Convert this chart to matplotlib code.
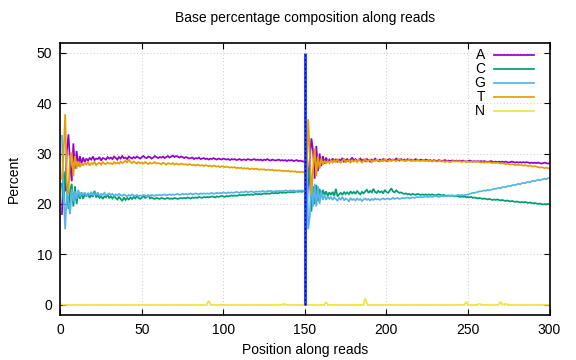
import numpy as np
import matplotlib
matplotlib.use("Agg")
import matplotlib.pyplot as plt
from matplotlib.lines import Line2D

plt.rcParams['font.family'] = ['Liberation Sans', 'DejaVu Sans']

# ---- data (percent per position, reads 1-150 = read 1, 151-300 = read 2) ----
base_A = [
    18.0, 26.0, 22.5, 30.5, 33.8, 28.0, 24.5, 32.0, 27.0, 30.5, 27.5, 29.5, 28.0, 29.2, 28.3,
    29.0, 28.6, 29.1, 28.8, 29.4, 28.7, 29.0, 28.9, 29.3, 28.6, 29.1, 29.0, 28.8, 29.3, 29.0,
    29.2, 28.9, 29.4, 29.1, 28.8, 29.3, 29.0, 29.5, 29.1, 29.2, 28.9, 29.4, 29.2, 29.0, 29.3,
    29.1, 29.4, 29.2, 29.0, 29.3, 29.5, 29.2, 29.1, 29.4, 29.3, 29.0, 29.2, 29.5, 29.3, 29.1,
    29.3, 29.2, 29.4, 29.1, 29.3, 29.5, 29.2, 29.4, 29.6, 29.3, 29.5, 29.4, 29.2, 29.4, 29.3,
    29.1, 29.3, 29.2, 29.0, 29.1, 29.2, 28.9, 29.1, 29.0, 29.2, 28.9, 29.0, 29.1, 28.9, 29.0,
    28.8, 29.0, 28.9, 29.1, 28.9, 28.8, 29.0, 28.9, 28.8, 29.0, 28.9, 28.8, 28.9, 28.7, 28.9,
    28.8, 28.9, 28.7, 28.8, 28.9, 28.7, 28.8, 28.8, 28.7, 28.9, 28.8, 28.7, 28.8, 28.9, 28.7,
    28.8, 28.7, 28.8, 28.6, 28.8, 28.7, 28.9, 28.7, 28.6, 28.8, 28.7, 28.6, 28.7, 28.8, 28.6,
    28.7, 28.6, 28.7, 28.5, 28.7, 28.6, 28.7, 28.5, 28.6, 28.7, 28.5, 28.6, 28.5, 28.4, 28.5,
    20.0, 24.0, 29.0, 33.0, 30.5, 25.0, 31.5, 26.5, 30.0, 27.5, 29.5, 28.0, 29.2, 28.3, 28.8,
    28.4, 29.0, 28.5, 28.9, 28.3, 28.8, 28.6, 29.1, 28.4, 28.7, 28.9, 28.5, 28.8, 29.2, 28.6,
    28.9, 28.5, 28.7, 29.0, 28.6, 28.8, 28.5, 28.9, 28.7, 28.4, 28.8, 28.6, 29.0, 28.7, 28.5,
    28.8, 28.6, 28.9, 28.7, 28.5, 28.8, 28.9, 28.6, 28.8, 28.7, 29.0, 28.8, 28.6, 28.9, 28.7,
    28.8, 28.6, 28.9, 28.7, 28.8, 28.6, 28.7, 28.9, 28.7, 28.6, 28.8, 28.7, 28.6, 28.8, 28.7,
    28.6, 28.7, 28.5, 28.7, 28.6, 28.5, 28.7, 28.6, 28.5, 28.6, 28.7, 28.5, 28.6, 28.5, 28.6,
    28.6, 28.5, 28.6, 28.5, 28.6, 28.5, 28.6, 28.5, 28.4, 28.5, 28.6, 28.5, 28.4, 28.5, 28.4,
    28.5, 28.4, 28.5, 28.4, 28.5, 28.4, 28.3, 28.4, 28.5, 28.4, 28.3, 28.4, 28.3, 28.4, 28.3,
    28.4, 28.3, 28.4, 28.3, 28.2, 28.3, 28.4, 28.3, 28.2, 28.3, 28.2, 28.3, 28.2, 28.3, 28.2,
    28.3, 28.2, 28.1, 28.2, 28.1, 28.2, 28.1, 28.2, 28.1, 28.0, 28.1, 28.2, 28.1, 28.0, 28.1,
]

base_C = [
    24.0, 20.0, 26.5, 23.5, 19.0, 22.5, 24.0, 19.5, 23.5, 20.0, 22.5, 21.0, 22.3, 21.0, 22.0,
    21.5, 22.0, 21.2, 21.8, 21.4, 22.6, 21.3, 21.7, 21.2, 21.6, 21.0, 21.5, 21.3, 21.8, 21.2,
    21.5, 21.1, 21.6, 21.2, 20.9, 21.4, 21.0, 20.6, 21.3, 20.8, 21.2, 20.9, 21.3, 21.0, 21.4,
    21.1, 21.5, 21.2, 21.0, 21.3, 21.6, 21.2, 21.4, 21.8, 21.1, 21.3, 21.1, 21.0, 21.2, 21.1,
    21.0, 21.2, 21.1, 21.0, 21.1, 21.2, 21.0, 21.1, 21.0, 21.2, 21.1, 21.0, 21.1, 21.2, 21.1,
    21.2, 21.1, 21.3, 21.2, 21.1, 21.3, 21.2, 21.3, 21.2, 21.4, 21.3, 21.2, 21.4, 21.3, 21.4,
    21.3, 21.4, 21.5, 21.4, 21.3, 21.5, 21.4, 21.5, 21.6, 21.5, 21.4, 21.6, 21.5, 21.6, 21.7,
    21.6, 21.7, 21.6, 21.7, 21.8, 21.7, 21.8, 21.7, 21.8, 21.9, 21.8, 21.9, 21.8, 21.9, 22.0,
    21.9, 22.0, 21.9, 22.0, 22.1, 22.0, 22.1, 22.0, 22.1, 22.2, 22.1, 22.2, 22.1, 22.2, 22.3,
    22.2, 22.3, 22.2, 22.3, 22.4, 22.3, 22.4, 22.3, 22.4, 22.5, 22.4, 22.5, 22.4, 22.5, 22.6,
    22.0, 27.0, 25.0, 18.5, 23.5, 20.0, 23.8, 20.5, 23.0, 21.5, 22.8, 21.8, 22.5, 21.6, 22.3,
    21.8, 22.4, 21.6, 23.0, 21.5, 21.9, 22.2, 21.8, 22.4, 22.0, 22.3, 21.9, 22.5, 22.1, 22.4,
    22.0, 22.6, 22.2, 21.9, 22.4, 22.1, 22.5, 22.8, 22.2, 22.6, 22.3, 23.0, 22.4, 22.2, 22.6,
    22.3, 22.5, 22.1, 22.8, 22.4, 22.2, 22.6, 23.1, 22.5, 22.3, 22.7, 22.4, 22.2, 22.3, 22.1,
    22.0, 22.1, 21.9, 22.0, 21.8, 22.0, 21.9, 21.8, 22.0, 21.9, 21.8, 21.9, 21.8, 21.9, 21.8,
    21.9, 21.8, 21.9, 21.8, 21.7, 21.8, 21.9, 21.8, 21.7, 21.8, 21.7, 21.6, 21.7, 21.6, 21.7,
    21.6, 21.5, 21.6, 21.5, 21.4, 21.5, 21.4, 21.5, 21.3, 21.4, 21.3, 21.4, 21.2, 21.3, 21.2,
    21.1, 21.2, 21.1, 21.0, 21.1, 21.0, 20.9, 21.0, 20.9, 20.8, 20.9, 20.8, 20.9, 20.8, 20.7,
    20.8, 20.7, 20.6, 20.7, 20.6, 20.5, 20.6, 20.5, 20.4, 20.5, 20.4, 20.3, 20.4, 20.3, 20.4,
    20.3, 20.2, 20.3, 20.2, 20.1, 20.2, 20.1, 20.0, 20.1, 20.0, 19.9, 20.0, 19.9, 20.0, 19.9,
]

base_G = [
    33.5, 22.0, 15.0, 22.5, 20.5, 18.0, 23.0, 20.5, 22.5, 21.0, 22.8, 21.5, 22.0, 21.8, 22.3,
    21.6, 22.2, 21.8, 22.4, 21.7, 22.1, 21.9, 22.3, 21.6, 22.0, 21.8, 22.2, 21.7, 21.9, 22.1,
    21.8, 22.0, 21.6, 21.9, 21.7, 22.0, 21.8, 21.6, 21.9, 21.7, 21.5, 21.8, 21.6, 21.9, 21.7,
    21.6, 21.8, 21.5, 21.7, 21.6, 21.8, 21.7, 21.5, 21.7, 21.6, 21.8, 21.7, 21.6, 21.8, 21.7,
    21.8, 21.7, 21.8, 21.9, 21.7, 21.8, 21.9, 21.8, 21.9, 21.8, 21.9, 22.0, 21.8, 21.9, 22.0,
    21.9, 22.0, 21.9, 22.0, 22.1, 21.9, 22.0, 22.1, 22.0, 21.9, 22.1, 22.0, 22.1, 22.0, 22.1,
    22.0, 22.1, 22.2, 22.0, 22.1, 22.2, 22.1, 22.2, 22.1, 22.3, 22.2, 22.1, 22.3, 22.2, 22.3,
    22.2, 22.3, 22.4, 22.3, 22.2, 22.4, 22.3, 22.4, 22.5, 22.3, 22.4, 22.5, 22.4, 22.3, 22.5,
    22.4, 22.5, 22.4, 22.6, 22.5, 22.4, 22.6, 22.5, 22.6, 22.5, 22.4, 22.6, 22.5, 22.6, 22.5,
    22.6, 22.5, 22.7, 22.6, 22.5, 22.7, 22.6, 22.7, 22.6, 22.5, 22.7, 22.6, 22.7, 22.6, 22.7,
    35.0, 15.0, 17.5, 25.0, 19.5, 24.0, 19.5, 23.5, 20.0, 22.5, 20.8, 21.8, 20.8, 21.5, 21.0,
    21.4, 20.8, 21.3, 21.0, 20.6, 21.2, 20.9, 21.4, 20.7, 21.1, 20.9, 20.5, 21.2, 20.8, 21.0,
    20.7, 21.1, 20.8, 21.0, 20.6, 20.9, 21.1, 20.8, 21.0, 20.7, 21.0, 20.8, 21.1, 20.9, 21.0,
    20.8, 21.0, 21.1, 20.9, 21.0, 21.1, 20.9, 21.0, 21.2, 21.0, 21.1, 21.2, 21.0, 21.1, 21.2,
    21.1, 21.2, 21.3, 21.1, 21.2, 21.3, 21.2, 21.3, 21.4, 21.3, 21.4, 21.3, 21.4, 21.5, 21.4,
    21.4, 21.5, 21.4, 21.5, 21.6, 21.5, 21.4, 21.5, 21.6, 21.5, 21.6, 21.5, 21.6, 21.7, 21.6,
    21.7, 21.6, 21.7, 21.8, 21.7, 21.8, 21.7, 21.8, 21.8, 21.9, 22.0, 22.1, 22.2, 22.2, 22.3,
    22.4, 22.5, 22.5, 22.6, 22.7, 22.6, 22.8, 22.7, 22.8, 22.9, 23.0, 23.0, 23.1, 23.2, 23.1,
    23.3, 23.4, 23.3, 23.5, 23.6, 23.5, 23.7, 23.8, 23.7, 23.9, 24.0, 23.9, 24.1, 24.2, 24.1,
    24.3, 24.4, 24.3, 24.5, 24.6, 24.5, 24.7, 24.8, 24.7, 24.8, 24.9, 25.0, 24.9, 25.1, 25.2,
]

base_T = [
    25.0, 30.0, 37.8, 24.0, 22.0, 29.5, 30.2, 25.5, 29.5, 27.0, 28.5, 27.3, 28.0, 27.6, 28.2,
    27.8, 28.3, 27.6, 28.1, 27.9, 28.4, 27.7, 28.0, 28.2, 27.8, 28.3, 28.0, 27.9, 28.2, 28.0,
    28.1, 27.9, 28.3, 28.0, 28.2, 28.0, 28.4, 28.1, 28.3, 28.6, 28.2, 28.8, 28.3, 28.1, 28.4,
    28.2, 28.0, 28.3, 28.1, 28.2, 28.0, 28.3, 28.1, 27.9, 28.2, 28.0, 28.1, 28.3, 28.0, 28.1,
    28.0, 27.9, 28.2, 28.0, 27.8, 28.1, 28.0, 27.9, 28.1, 27.8, 28.0, 27.9, 27.8, 28.0, 27.9,
    27.8, 27.9, 27.7, 27.9, 27.8, 27.7, 27.8, 27.6, 27.8, 27.7, 27.6, 27.7, 27.5, 27.7, 27.6,
    27.5, 27.6, 27.4, 27.6, 27.5, 27.4, 27.5, 27.3, 27.5, 27.4, 27.3, 27.4, 27.3, 27.2, 27.3,
    27.2, 27.3, 27.1, 27.2, 27.1, 27.2, 27.0, 27.1, 27.0, 27.1, 26.9, 27.0, 27.0, 26.9, 27.0,
    26.9, 26.8, 26.9, 26.8, 26.9, 26.7, 26.8, 26.8, 26.7, 26.8, 26.6, 26.7, 26.6, 26.7, 26.6,
    26.6, 26.5, 26.6, 26.5, 26.6, 26.4, 26.5, 26.4, 26.5, 26.3, 26.4, 26.3, 26.4, 26.3, 26.2,
    24.0, 36.8, 30.0, 22.0, 27.0, 31.0, 25.5, 29.5, 27.0, 29.0, 27.8, 28.6, 28.0, 28.5, 28.1,
    28.6, 28.2, 28.7, 28.3, 28.8, 28.4, 28.2, 28.6, 28.9, 28.3, 28.5, 28.7, 28.2, 28.6, 28.4,
    28.7, 28.3, 28.8, 28.5, 28.2, 28.6, 28.9, 28.4, 28.6, 28.8, 28.3, 28.7, 28.5, 28.8, 28.6,
    28.4, 28.7, 28.5, 28.9, 28.6, 28.4, 28.7, 28.5, 28.8, 28.6, 28.5, 28.7, 28.9, 28.6, 28.7,
    28.5, 28.7, 28.6, 28.8, 28.5, 28.7, 28.6, 28.5, 28.7, 28.6, 28.5, 28.6, 28.7, 28.5, 28.6,
    28.5, 28.6, 28.4, 28.6, 28.5, 28.4, 28.5, 28.6, 28.4, 28.5, 28.3, 28.5, 28.4, 28.3, 28.4,
    28.5, 28.4, 28.5, 28.4, 28.5, 28.3, 28.4, 28.5, 28.3, 28.4, 28.3, 28.4, 28.3, 28.4, 28.3,
    28.4, 28.3, 28.2, 28.3, 28.2, 28.3, 28.2, 28.3, 28.2, 28.1, 28.2, 28.1, 28.2, 28.1, 28.0,
    28.1, 28.0, 27.9, 28.0, 27.9, 27.8, 27.9, 27.8, 27.7, 27.8, 27.7, 27.8, 27.7, 27.6, 27.7,
    27.6, 27.5, 27.6, 27.5, 27.4, 27.5, 27.4, 27.3, 27.2, 27.3, 27.2, 27.1, 27.2, 27.1, 27.0,
]

base_N = [
    0.1, 0.0, 0.0, 0.0, 0.0, 0.0, 0.0, 0.0, 0.0, 0.0, 0.0, 0.0, 0.0, 0.0, 0.0,
    0.0, 0.0, 0.0, 0.0, 0.0, 0.0, 0.0, 0.0, 0.0, 0.0, 0.0, 0.0, 0.0, 0.0, 0.0,
    0.0, 0.0, 0.0, 0.0, 0.0, 0.0, 0.0, 0.0, 0.0, 0.0, 0.0, 0.0, 0.0, 0.0, 0.0,
    0.0, 0.0, 0.0, 0.0, 0.0, 0.0, 0.0, 0.0, 0.0, 0.0, 0.0, 0.0, 0.0, 0.0, 0.0,
    0.0, 0.0, 0.0, 0.0, 0.0, 0.0, 0.0, 0.0, 0.0, 0.0, 0.0, 0.0, 0.0, 0.0, 0.0,
    0.0, 0.0, 0.0, 0.0, 0.0, 0.0, 0.0, 0.0, 0.0, 0.0, 0.0, 0.0, 0.0, 0.0, 0.2,
    0.8, 0.1, 0.0, 0.0, 0.0, 0.0, 0.0, 0.0, 0.0, 0.0, 0.0, 0.0, 0.0, 0.0, 0.0,
    0.0, 0.0, 0.0, 0.0, 0.0, 0.0, 0.0, 0.0, 0.0, 0.0, 0.0, 0.0, 0.0, 0.0, 0.0,
    0.0, 0.0, 0.0, 0.0, 0.0, 0.0, 0.0, 0.0, 0.0, 0.0, 0.0, 0.0, 0.0, 0.0, 0.0,
    0.1, 0.2, 0.1, 0.0, 0.0, 0.0, 0.0, 0.0, 0.0, 0.0, 0.0, 0.0, 0.0, 0.0, 0.0,
    0.0, 0.0, 0.0, 0.0, 0.0, 0.0, 0.0, 0.0, 0.0, 0.0, 0.0, 0.1, 0.5, 0.1, 0.0,
    0.0, 0.0, 0.0, 0.0, 0.0, 0.0, 0.0, 0.0, 0.0, 0.0, 0.0, 0.0, 0.0, 0.0, 0.0,
    0.0, 0.0, 0.0, 0.0, 0.0, 0.1, 1.3, 0.3, 0.0, 0.0, 0.0, 0.0, 0.0, 0.0, 0.0,
    0.0, 0.0, 0.0, 0.0, 0.0, 0.0, 0.0, 0.0, 0.0, 0.0, 0.0, 0.0, 0.0, 0.0, 0.0,
    0.0, 0.0, 0.0, 0.0, 0.0, 0.0, 0.0, 0.0, 0.0, 0.0, 0.0, 0.0, 0.0, 0.0, 0.0,
    0.0, 0.0, 0.0, 0.0, 0.0, 0.0, 0.0, 0.0, 0.0, 0.0, 0.0, 0.0, 0.0, 0.0, 0.0,
    0.0, 0.0, 0.0, 0.0, 0.0, 0.0, 0.0, 0.1, 0.6, 0.1, 0.0, 0.0, 0.0, 0.0, 0.0,
    0.1, 0.2, 0.1, 0.0, 0.0, 0.0, 0.0, 0.0, 0.0, 0.0, 0.0, 0.0, 0.0, 0.1, 0.6,
    0.1, 0.1, 0.2, 0.1, 0.0, 0.0, 0.0, 0.0, 0.0, 0.0, 0.0, 0.0, 0.0, 0.0, 0.0,
    0.0, 0.0, 0.0, 0.0, 0.0, 0.0, 0.0, 0.0, 0.0, 0.0, 0.0, 0.0, 0.0, 0.0, 0.0,
]

positions = np.arange(1, len(base_A) + 1)
series_labels = ["A", "C", "G", "T", "N"]
series_colors = ["#9400D3", "#009E73", "#56B4E9", "#E69F00", "#F0E442"]
read_boundary = 150
boundary_top = 50
x_ticks = [0, 50, 100, 150, 200, 250, 300]
y_ticks = [0, 10, 20, 30, 40, 50]

W, H = 576, 360
fig = plt.figure(figsize=(W / 100, H / 100), dpi=100)
ax_l, ax_r, ax_t, ax_b = 60.3, 549.5, 42.5, 315.0
ax = fig.add_axes([ax_l / W, 1 - ax_b / H, (ax_r - ax_l) / W, (ax_b - ax_t) / H])

all_series = [base_A, base_C, base_G, base_T, base_N]
for vals, col in zip(all_series, series_colors):
    ax.plot(positions, vals, color=col, lw=1.25, solid_joinstyle='miter')

# read boundary marker
ax.vlines(read_boundary, 0, boundary_top, color="#2a4bff", lw=2.2, zorder=5)
ax.vlines(read_boundary, 0, boundary_top, color="#0000a0", lw=0.8,
          linestyles=(0, (2, 2)), zorder=6)

ax.set_xlim(0, 300)
ax.set_ylim(-2, 52)
ax.set_xticks(x_ticks)
ax.set_yticks(y_ticks)
ax.tick_params(direction='in', length=4.5, width=0.8, top=True, right=True,
               labelsize=10, pad=6, colors='black')
ax.grid(True, color='#b8b8b8', lw=0.6, linestyle=(0, (1, 3)))
ax.set_axisbelow(True)
for s in ax.spines.values():
    s.set_linewidth(1.2)
    s.set_color('black')

fig.text(0.5 * (ax_l + ax_r) / W, 1 - 18 / H, "Base percentage composition along reads",
         ha='center', va='center', fontsize=10)
fig.text(0.5 * (ax_l + ax_r) / W, 1 - 350 / H, "Position along reads",
         ha='center', va='center', fontsize=10)
fig.text(14 / W, 1 - 0.5 * (ax_t + ax_b) / H, "Percent", rotation=90,
         ha='center', va='center', fontsize=10)

# key
key_rows = [54.7, 68.7, 82.7, 97.0, 110.7]
for lab, col, yk in zip(series_labels, series_colors, key_rows):
    fig.text(485 / W, 1 - yk / H, lab, ha='right', va='center', fontsize=10)
    fig.add_artist(Line2D([494 / W, 534 / W], [1 - yk / H, 1 - yk / H],
                          transform=fig.transFigure, color=col, lw=1.25))

fig.savefig("out.png", dpi=100)
